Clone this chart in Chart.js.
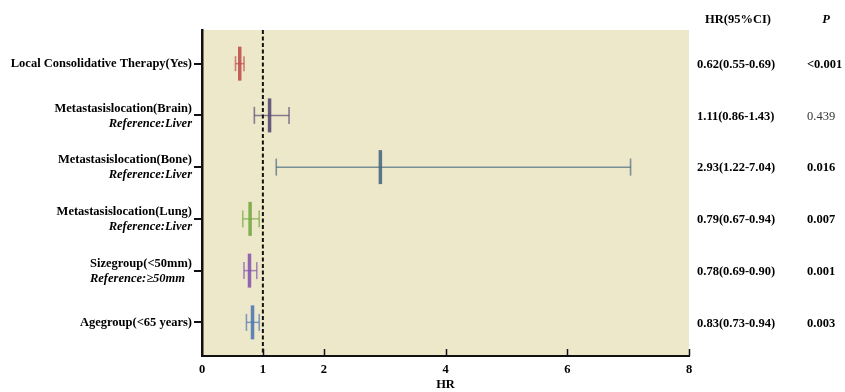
<!DOCTYPE html>
<html>
<head>
<meta charset="utf-8">
<script src="https://cdn.jsdelivr.net/npm/chart.js@4"></script>
<style>
  html, body { margin: 0; padding: 0; background: #fff; }
  #wrap { width: 845px; height: 392px; }
</style>
</head>
<body>
<div id="wrap"><canvas id="forestChart"></canvas></div>
<script>
// rows, top to bottom
const labels = ['Local Consolidative Therapy(Yes)', 'Metastasislocation(Brain)', 'Metastasislocation(Bone)',
  'Metastasislocation(Lung)', 'Sizegroup(<50mm)', 'Agegroup(<65 years)'];
const refLabels = ['', 'Reference:Liver', 'Reference:Liver', 'Reference:Liver', 'Reference:\u226550mm', ''];
const hr = [0.62, 1.11, 2.93, 0.79, 0.78, 0.83];
const ciLow = [0.55, 0.86, 1.22, 0.67, 0.69, 0.73];
const ciHigh = [0.69, 1.43, 7.04, 0.94, 0.90, 0.94];
const pValues = ['<0.001', '0.439', '0.016', '0.007', '0.001', '0.003'];
const xTicks = [0, 1, 2, 4, 6, 8];
const colors = ['#C0504D', '#5A4A72', '#47697D', '#77A843', '#8558AE', '#5078B2'];

const FONT = '"Liberation Serif", "Times New Roman", serif';
const FS = 12.5;
const rows = labels.map((_, i) => i + 1);

const alpha = (hex, a) => {
  const n = parseInt(hex.slice(1), 16);
  return `rgba(${n >> 16}, ${(n >> 8) & 255}, ${n & 255}, ${a})`;
};

// confidence interval whiskers with caps
const ciSets = rows.map((y, i) => ({
  type: 'line',
  data: [{ x: ciLow[i], y }, { x: ciHigh[i], y }],
  borderColor: alpha(colors[i], 0.7),
  borderWidth: 1.5,
  pointStyle: 'line',
  rotation: 90,
  pointRadius: i === 0 ? 7.5 : 8.5,
  pointBorderWidth: 1.6,
  pointBorderColor: alpha(colors[i], 0.7),
  pointHoverRadius: 0
}));

const refLine = {
  type: 'line',
  data: [{ x: 1, y: 0.35 }, { x: 1, y: 6.65 }],
  borderColor: '#111',
  borderWidth: 2,
  borderDash: [4, 2.5],
  pointRadius: 0
};

const hrSet = {
  type: 'scatter',
  data: rows.map((y, i) => ({ x: hr[i], y })),
  pointStyle: 'line',
  rotation: 90,
  pointRadius: 17,
  pointBorderWidth: 3.5,
  pointBorderColor: colors.map(c => alpha(c, 0.9))
};

const panelBg = {
  id: 'panelBg',
  beforeDraw(chart) {
    const { ctx, chartArea: a } = chart;
    ctx.save();
    ctx.fillStyle = '#EEE8CB';
    ctx.fillRect(a.left, a.top, a.right - a.left, a.bottom - a.top);
    ctx.restore();
  }
};

const textCols = {
  id: 'textCols',
  afterDraw(chart) {
    const { ctx, chartArea: a } = chart;
    const xs = chart.scales.x, ys = chart.scales.y;
    ctx.save();
    // inward ticks on x axis
    ctx.strokeStyle = '#111';
    ctx.lineWidth = 1.5;
    xTicks.forEach(t => {
      if (t === 0) return;
      const px = Math.round(xs.getPixelForValue(t)) + 0.5;
      ctx.beginPath();
      ctx.moveTo(px, a.bottom);
      ctx.lineTo(px, a.bottom - 7);
      ctx.stroke();
    });

    ctx.fillStyle = '#000';
    ctx.textBaseline = 'middle';
    const bold = `bold ${FS}px ${FONT}`;
    const boldIt = `italic bold ${FS}px ${FONT}`;
    // row labels
    labels.forEach((lab, i) => {
      const py = ys.getPixelForValue(rows[i]);
      ctx.font = bold;
      ctx.textAlign = 'right';
      if (refLabels[i]) {
        ctx.fillText(lab, 192, py - 7);
        if (i === 4) {
          const w = ctx.measureText(lab).width;
          ctx.font = boldIt;
          ctx.textAlign = 'left';
          ctx.fillText(refLabels[i], 192 - w, py + 8);
        } else {
          ctx.font = boldIt;
          ctx.fillText(refLabels[i], 192, py + 8);
        }
      } else {
        ctx.fillText(lab, 192, py);
      }
    });
    // header
    ctx.font = bold;
    ctx.textAlign = 'center';
    ctx.fillText('HR(95%CI)', 738, 20);
    ctx.font = boldIt;
    ctx.fillText('P', 826, 20);
    // HR and P columns
    rows.forEach((y, i) => {
      const py = ys.getPixelForValue(y) + 1;
      ctx.textAlign = 'left';
      ctx.font = bold;
      ctx.fillText(`${hr[i].toFixed(2)}(${ciLow[i].toFixed(2)}-${ciHigh[i].toFixed(2)})`, 697, py);
      const p = pValues[i];
      const sig = p.startsWith('<') || parseFloat(p) < 0.05;
      ctx.font = `${sig ? 'bold ' : ''}${FS}px ${FONT}`;
      ctx.fillStyle = sig ? '#000' : '#333';
      ctx.fillText(p, 807, py);
      ctx.fillStyle = '#000';
    });
    ctx.restore();
  }
};

new Chart(document.getElementById('forestChart'), {
  data: { datasets: [refLine, ...ciSets, hrSet] },
  options: {
    responsive: true,
    maintainAspectRatio: false,
    animation: false,
    layout: { padding: { top: 30, right: 156, left: 0, bottom: 0 } },
    plugins: { legend: { display: false }, tooltip: { enabled: false } },
    scales: {
      x: {
        type: 'linear',
        min: 0,
        max: 8,
        afterBuildTicks: s => { s.ticks = xTicks.map(v => ({ value: v })); },
        afterFit: s => { s.height = 36; },
        grid: { display: true, drawOnChartArea: false, drawTicks: false },
        border: { display: true, color: '#111', width: 2 },
        ticks: { color: '#000', padding: 6, font: { family: FONT, size: FS, weight: 'bold' } },
        title: { display: true, text: 'HR', color: '#000', padding: { top: 4, bottom: 0 }, font: { family: FONT, size: FS, weight: 'bold' } }
      },
      y: {
        type: 'linear',
        min: 0.35,
        max: 6.65,
        reverse: true,
        afterBuildTicks: s => { s.ticks = rows.map(v => ({ value: v })); },
        afterFit: s => { s.width = 202; },
        grid: { display: true, drawOnChartArea: false, drawTicks: true, tickLength: 8, color: '#111', lineWidth: 2 },
        border: { display: true, color: '#111', width: 2.5 },
        ticks: { display: false }
      }
    }
  },
  plugins: [panelBg, textCols]
});
</script>
</body>
</html>
